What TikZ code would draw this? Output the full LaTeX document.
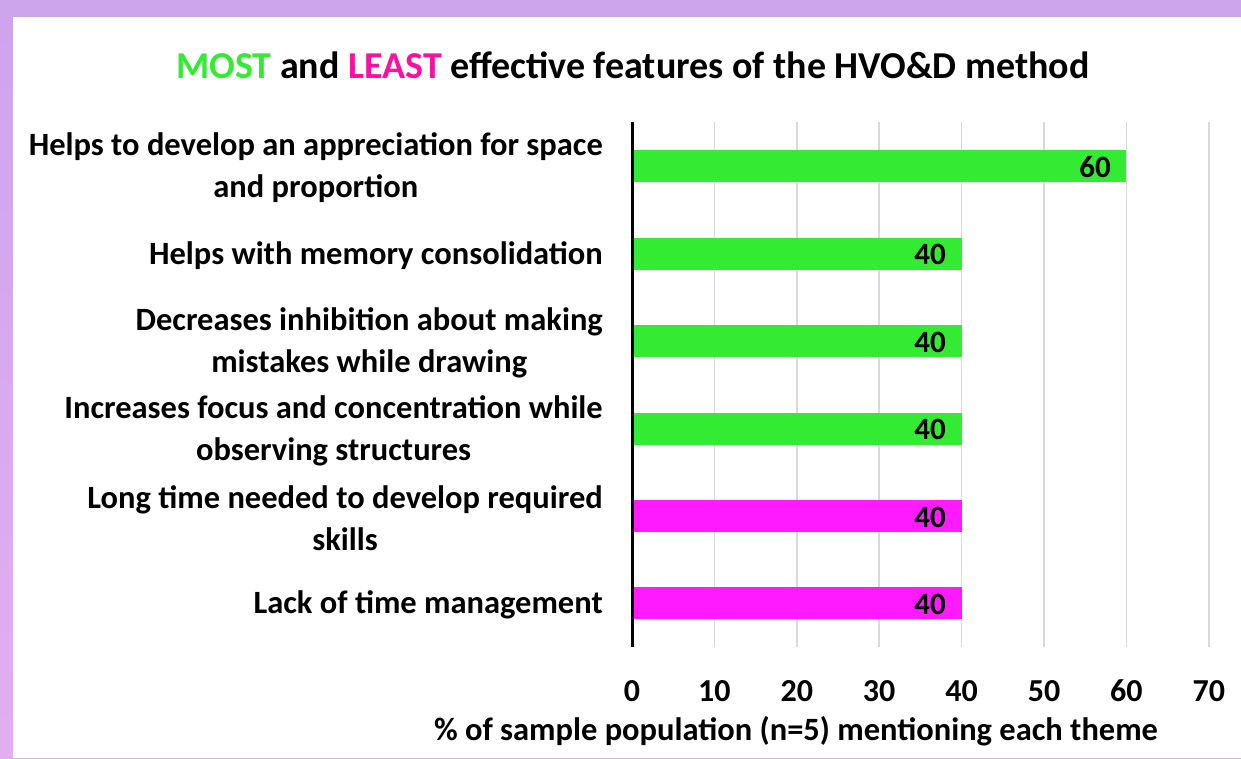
\documentclass[tikz,border=0pt]{standalone}
\usepackage{fontspec}
\setmainfont{Carlito}
\definecolor{bgtop}{HTML}{CDA5ED}
\definecolor{bgbot}{HTML}{E3AEF0}
\definecolor{barG}{HTML}{33EB33}
\definecolor{barM}{HTML}{FF1AFF}
\definecolor{titM}{RGB}{255,16,160}
\definecolor{gridc}{HTML}{D9D9D9}
\tikzset{
  lbl/.style={anchor=east, align=center, font=\fontsize{32.5}{42}\selectfont\bfseries, inner sep=0pt, yshift=-2pt},
  val/.style={anchor=east, font=\fontsize{31}{36}\selectfont\bfseries, inner sep=0pt, yshift=-1pt},
  tick/.style={anchor=center, font=\fontsize{32}{36}\selectfont\bfseries, inner sep=0pt},
  gbar/.style={fill=barG, draw=none},
  mbar/.style={fill=barM, draw=none},
  grid line/.style={draw=gridc, line width=1.5pt},
}
\begin{document}
\begin{tikzpicture}[x=1pt,y=-1pt]
\useasboundingbox (0,0) rectangle (1241,758);
\shade[top color=bgtop, bottom color=bgbot] (0,0) rectangle (1241,758);
\fill[white] (13,17) rectangle (1241,758);
% title
\node[font=\fontsize{38}{44}\selectfont\bfseries, inner sep=0pt] (title) at (633,65)
  {\textcolor{barG}{MOST} and \textcolor{titM}{LEAST} effective features of the HVO\&D method};
% grid
\foreach \v in {1,...,7} {
  \draw[grid line] ({632+\v*82.4},122) -- ({632+\v*82.4},647);
}
% bars
\fill[gbar] (632,150) rectangle (1126.4,182);
\fill[gbar] (632,237.5) rectangle (961.6,269.5);
\fill[gbar] (632,325) rectangle (961.6,357);
\fill[gbar] (632,412.5) rectangle (961.6,444.5);
\fill[mbar] (632,500) rectangle (961.6,532);
\fill[mbar] (632,587) rectangle (961.6,619);
% axis
\draw[line width=3pt] (632,122) -- (632,647);
% values
\node[val] (v1) at (1111,166) {60};
\node[val] (v2) at (946,253.5) {40};
\node[val] (v3) at (946,341) {40};
\node[val] (v4) at (946,428.5) {40};
\node[val] (v5) at (946,516) {40};
\node[val] (v6) at (946,603) {40};
% labels
\node[lbl] (l1) at (603,166) {Helps to develop an appreciation for space\\and proportion};
\node[lbl] (l2) at (603,253.5) {Helps with memory consolidation};
\node[lbl] (l3) at (603,341) {Decreases inhibition about making\\mistakes while drawing};
\node[lbl] (l4) at (603,428.5) {Increases focus and concentration while\\observing structures};
\node[lbl] (l5) at (603,516) {Long time needed to develop required\\skills};
\node[lbl] (l6) at (603,603) {Lack of time management};
% ticks
\foreach \v [count=\i from 0] in {0,10,...,70} {
  \node[tick] (t\i) at ({632+\i*82.4},691) {\v};
}
\node[font=\fontsize{32.5}{36}\selectfont\bfseries, inner sep=0pt] (xt) at (796,731) {\% of sample population (n=5) mentioning each theme};
\end{tikzpicture}
\end{document}
